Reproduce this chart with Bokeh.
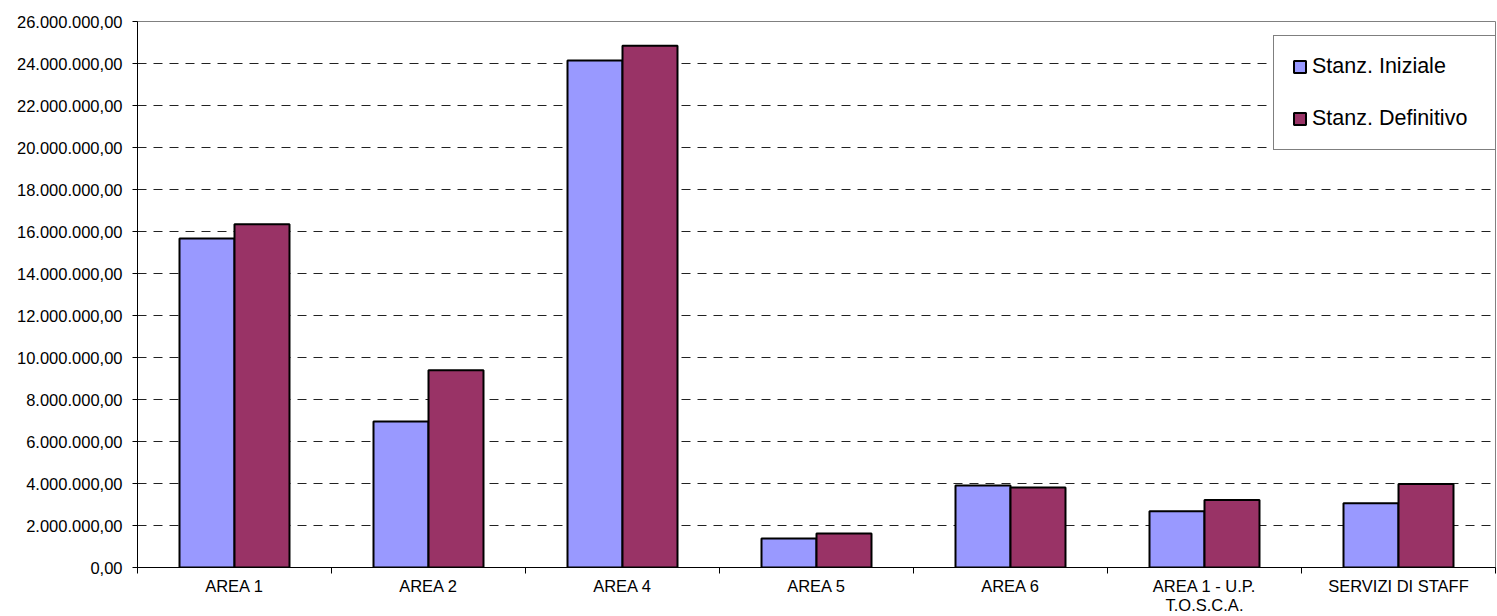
from bokeh.plotting import figure
from bokeh.models import FixedTicker, Legend, LegendItem, ColumnDataSource
from bokeh.transform import dodge
from bokeh.embed import file_html
from bokeh.resources import INLINE

categories = ["AREA 1", "AREA 2", "AREA 4", "AREA 5", "AREA 6",
              "AREA 1 - U.P.\nT.O.S.C.A.", "SERVIZI DI STAFF"]
stanz_iniziale = [15670000, 6950000, 24140000, 1380000, 3900000, 2680000, 3060000]
stanz_definitivo = [16340000, 9390000, 24850000, 1620000, 3810000, 3220000, 3980000]
y_ticks = [0, 2000000, 4000000, 6000000, 8000000, 10000000, 12000000,
           14000000, 16000000, 18000000, 20000000, 22000000, 24000000, 26000000]
y_tick_labels = ["0,00", "2.000.000,00", "4.000.000,00", "6.000.000,00", "8.000.000,00",
                 "10.000.000,00", "12.000.000,00", "14.000.000,00", "16.000.000,00",
                 "18.000.000,00", "20.000.000,00", "22.000.000,00", "24.000.000,00",
                 "26.000.000,00"]
series_names = ["Stanz. Iniziale", "Stanz. Definitivo"]
colors = ["#9999FF", "#993366"]

FONT = "Liberation Sans"
n = len(categories)
centers = [i + 0.5 for i in range(n)]
src = ColumnDataSource(dict(x=centers, ini=stanz_iniziale, dfn=stanz_definitivo))

p = figure(width=1497, height=616, x_range=(0, n), y_range=(0, 26000000),
           output_backend="svg", toolbar_location=None,
           min_border_left=137, min_border_right=2, min_border_top=21, min_border_bottom=48)
p.outline_line_color = "#808080"
p.outline_line_width = 1
p.background_fill_color = "white"

bw = 0.2835
r1 = p.vbar(x=dodge("x", -bw / 2), top="ini", width=bw, source=src,
            fill_color=colors[0], line_color="black", line_width=2)
r2 = p.vbar(x=dodge("x", bw / 2), top="dfn", width=bw, source=src,
            fill_color=colors[1], line_color="black", line_width=2)

# x axis
xa = p.xaxis[0]
xa.ticker = FixedTicker(ticks=centers, minor_ticks=list(range(n + 1)))
xa.major_label_overrides = {c: lab for c, lab in zip(centers, categories)}
xa.major_tick_out = 0
xa.major_tick_in = 0
xa.minor_tick_out = 6
xa.minor_tick_in = 0
xa.minor_tick_line_color = "black"
xa.axis_line_color = "black"
xa.major_label_text_font = FONT
xa.major_label_text_font_size = "16.5px"
xa.major_label_text_color = "black"
xa.major_label_standoff = 3
xa.major_label_text_line_height = 1.08
p.xgrid.visible = False

# y axis
ya = p.yaxis[0]
ya.ticker = FixedTicker(ticks=y_ticks)
ya.major_label_overrides = {v: s for v, s in zip(y_ticks, y_tick_labels)}
ya.major_tick_out = 5
ya.major_tick_in = 0
ya.minor_tick_line_color = None
ya.axis_line_color = "black"
ya.major_tick_line_color = "black"
ya.major_label_text_font = FONT
ya.major_label_text_font_size = "16.5px"
ya.major_label_text_color = "black"
ya.major_label_standoff = 10

p.ygrid.ticker = FixedTicker(ticks=y_ticks)
p.ygrid.grid_line_color = "#222222"
p.ygrid.grid_line_dash = "9 7"
p.ygrid.grid_line_width = 1

legend = Legend(items=[LegendItem(label=series_names[0], renderers=[r1]),
                       LegendItem(label=series_names[1], renderers=[r2])],
                location=(1136, 417))
legend.border_line_color = "black"
legend.border_line_width = 1
legend.background_fill_color = "white"
legend.background_fill_alpha = 1
legend.label_text_font = FONT
legend.label_text_font_size = "21.5px"
legend.label_text_color = "black"
legend.glyph_width = 15
legend.glyph_height = 15
legend.label_height = 24
legend.label_width = 200
legend.label_standoff = 5
legend.spacing = 27
legend.padding = 18
legend.margin = 0
p.add_layout(legend, "center")

open("out.html", "w").write(file_html(p, INLINE))
